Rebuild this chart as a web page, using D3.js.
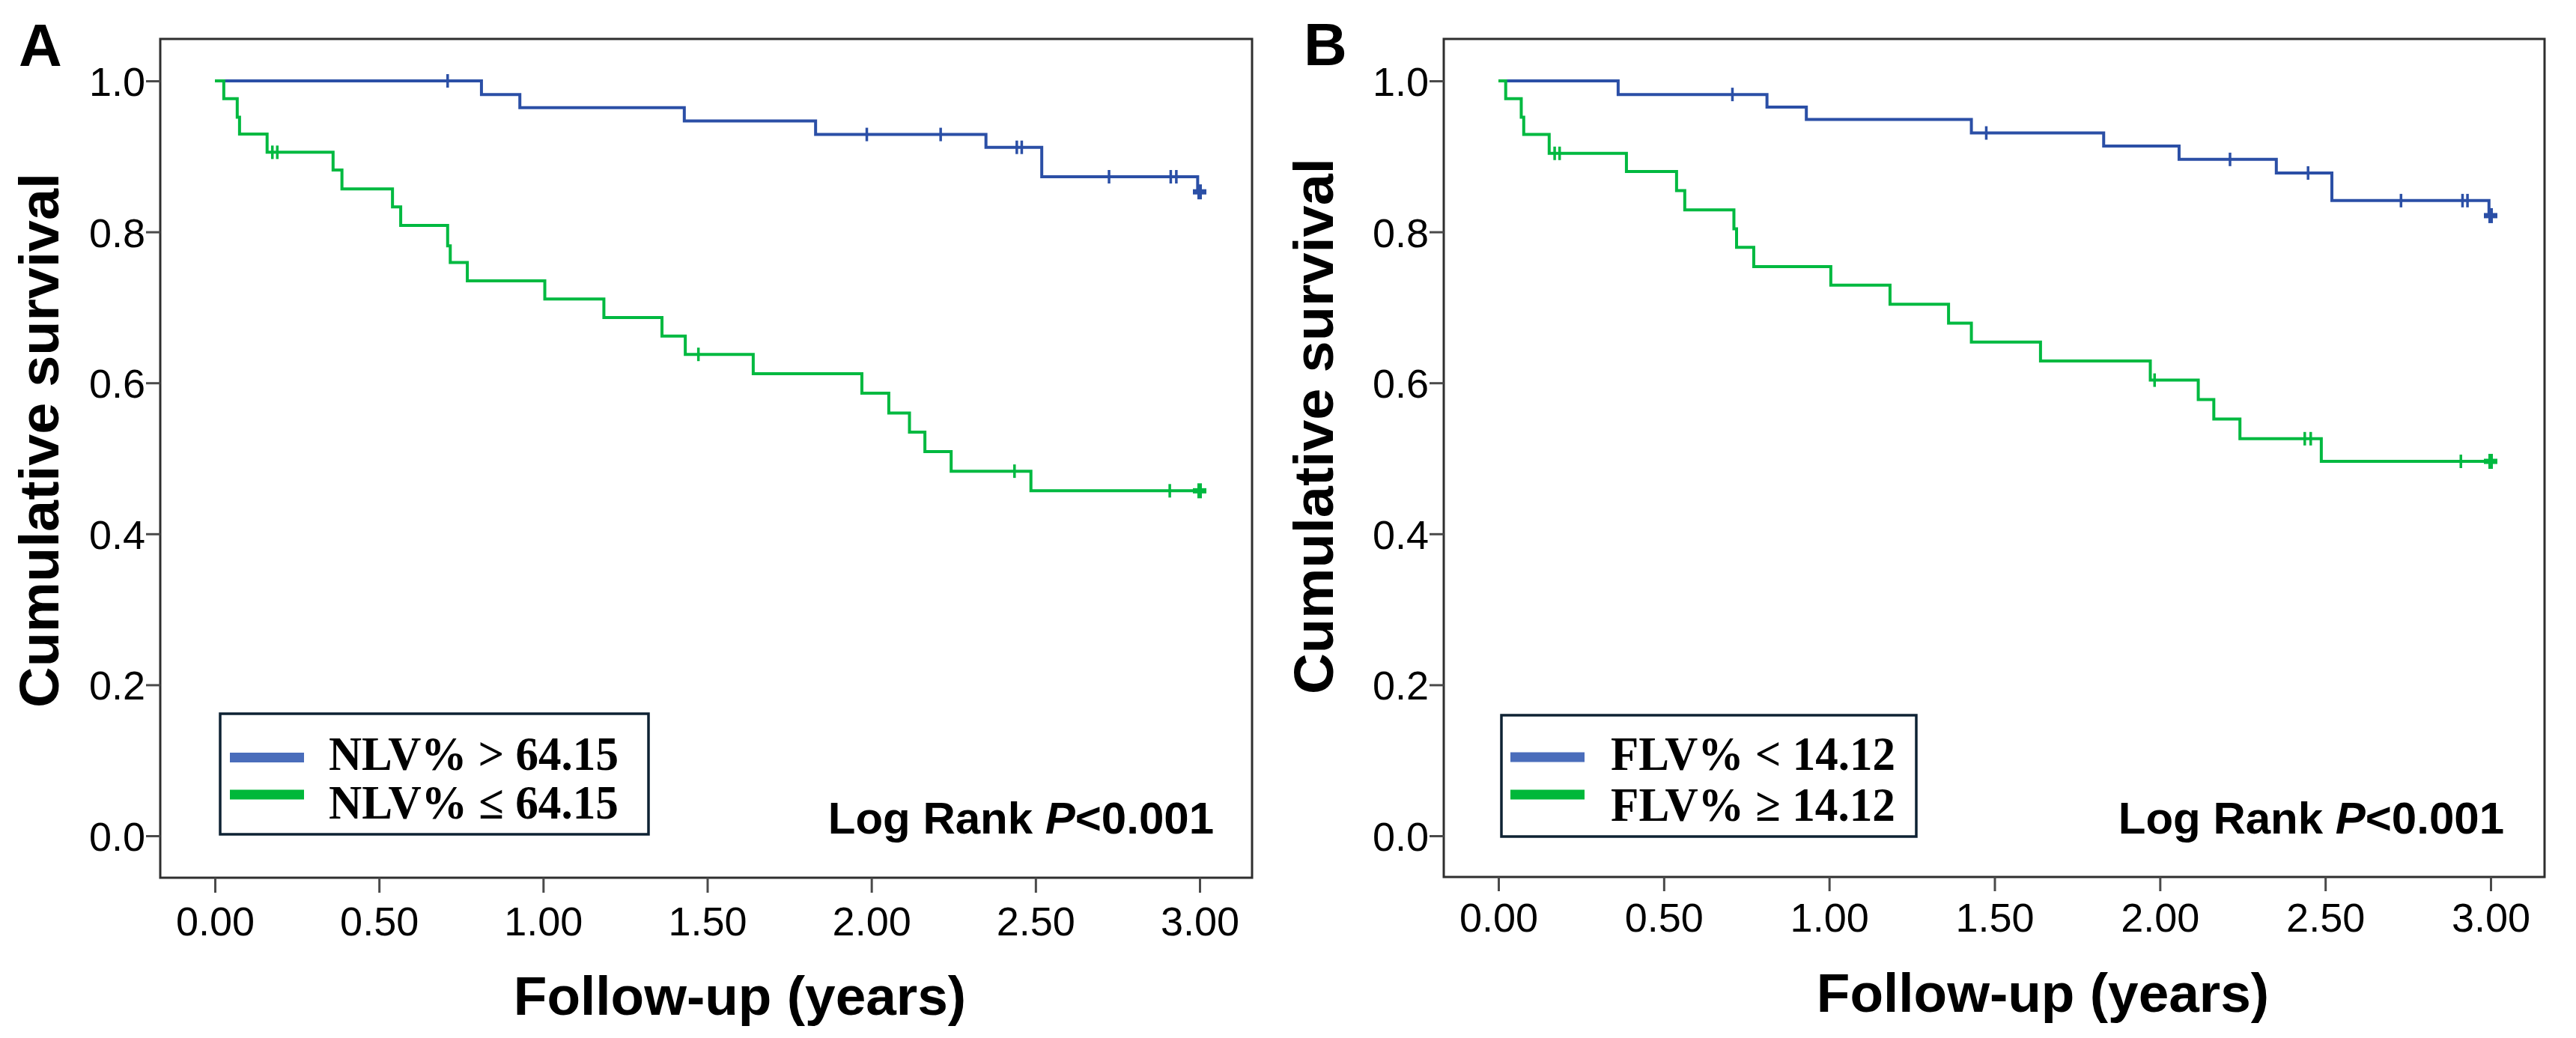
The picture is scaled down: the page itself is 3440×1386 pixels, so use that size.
<!DOCTYPE html>
<html><head><meta charset="utf-8">
<script src="https://cdn.jsdelivr.net/npm/d3@7/dist/d3.min.js"></script>
<style>body{margin:0;background:#fff}svg{display:block}</style>
</head><body>
<svg id="chart" width="3440" height="1386"></svg>
<script>
// ---------- data ----------
const yTickValues = [0.0, 0.2, 0.4, 0.6, 0.8, 1.0];
const xTickValues = [0.00, 0.50, 1.00, 1.50, 2.00, 2.50, 3.00];
const panelLetters = ["A", "B"];
const yAxisTitle = "Cumulative survival";
const xAxisTitle = "Follow-up (years)";
const logRankPrefix = "Log Rank ";
const logRankP = "P";
const logRankValue = "<0.001";
const legendA = ["NLV% > 64.15", "NLV% \u2264 64.15"];
const legendB = ["FLV% < 14.12", "FLV% \u2265 14.12"];

// Panel A, NLV% > 64.15 (blue)
const aBlueTimes = [0, 0.812, 0.929, 1.430, 1.830, 2.349, 2.519, 2.994];
const aBlueSurv  = [1.0, 0.982, 0.9645, 0.947, 0.929, 0.912, 0.873, 0.853];
const aBlueCensor = [0.709, 1.986, 2.211, 2.443, 2.458, 2.724, 2.912, 2.929, 3.0];
// Panel A, NLV% <= 64.15 (green)
const aGreenTimes = [0, 0.027, 0.068, 0.075, 0.159, 0.360, 0.387, 0.541, 0.566, 0.709, 0.717, 0.769, 1.005, 1.185, 1.362, 1.433, 1.640, 1.971, 2.053, 2.116, 2.163, 2.243, 2.486];
const aGreenSurv  = [1.0, 0.9765, 0.952, 0.9296, 0.9054, 0.882, 0.857, 0.833, 0.8085, 0.7816, 0.7595, 0.735, 0.711, 0.6864, 0.662, 0.6377, 0.612, 0.5863, 0.560, 0.5347, 0.509, 0.483, 0.457];
const aGreenCensor = [0.175, 0.190, 1.473, 2.436, 2.909, 3.0];

// Panel B, FLV% < 14.12 (blue)
const bBlueTimes = [0, 0.362, 0.812, 0.931, 1.430, 1.830, 2.058, 2.352, 2.520, 2.995];
const bBlueSurv  = [1.0, 0.982, 0.9654, 0.949, 0.931, 0.9136, 0.896, 0.878, 0.8414, 0.8215];
const bBlueCensor = [0.7075, 1.475, 2.212, 2.448, 2.729, 2.915, 2.930, 3.0];
// Panel B, FLV% >= 14.12 (green)
const bGreenTimes = [0, 0.022, 0.069, 0.0765, 0.1535, 0.387, 0.5386, 0.5634, 0.712, 0.720, 0.772, 1.005, 1.184, 1.361, 1.430, 1.639, 1.971, 2.116, 2.163, 2.242, 2.488];
const bGreenSurv  = [1.0, 0.9765, 0.952, 0.929, 0.904, 0.880, 0.8547, 0.829, 0.804, 0.7794, 0.754, 0.7294, 0.704, 0.679, 0.654, 0.629, 0.6036, 0.578, 0.552, 0.526, 0.496];
const bGreenCensor = [0.170, 0.185, 1.984, 2.438, 2.456, 2.910, 3.0];

// ---------- styles / layout ----------
const BLUE = "#2b4fa6", GREEN = "#00b940";
const LEG_BLUE = "#4a6dbb", LEG_GREEN = "#00b83a";
const SANS = "'Liberation Sans', Arial, sans-serif";
const SERIF = "'Liberation Serif', 'Times New Roman', serif";

const panels = [
  { letter: panelLetters[0], letterX: 25, letterY: 88,
    frame: [214, 52, 1672, 1172], xRange: [287, 1602], yRange: [1116, 108],
    yLabelX: 194, yTitleX: 78, yTitleY: 588, yTitleLen: 714, xTitleX: 988, xTitleY: 1355,
    xLabelY: 1249, xTickLen: 20,
    legendBox: [294, 953, 866, 1114], legLineX: [307, 406], legLineY: [1011.5, 1061],
    legTextX: 439, legTextY: [1028, 1093], legTextLen: [387, 387], legend: legendA,
    logX: 1621, logY: 1113,
    series: [
      { times: aBlueTimes, surv: aBlueSurv, censor: aBlueCensor, color: BLUE },
      { times: aGreenTimes, surv: aGreenSurv, censor: aGreenCensor, color: GREEN }
    ] },
  { letter: panelLetters[1], letterX: 1741, letterY: 87,
    frame: [1928, 52, 3398, 1171], xRange: [2001, 3326], yRange: [1116, 108],
    yLabelX: 1908, yTitleX: 1780, yTitleY: 569, yTitleLen: 716, xTitleX: 2728, xTitleY: 1351,
    xLabelY: 1244, xTickLen: 19,
    legendBox: [2005, 955, 2559, 1117], legLineX: [2017, 2116], legLineY: [1011, 1061],
    legTextX: 2151, legTextY: [1028, 1096], legTextLen: [380, 380], legend: legendB,
    logX: 3344, logY: 1113,
    series: [
      { times: bBlueTimes, surv: bBlueSurv, censor: bBlueCensor, color: BLUE },
      { times: bGreenTimes, surv: bGreenSurv, censor: bGreenCensor, color: GREEN }
    ] }
];

// horizontal scale factor so a text's advance equals targetLen
function fitWidth(textSel, targetLen) {
  const w = textSel.node().getComputedTextLength();
  return w > 0 ? targetLen / w : 1;
}

const svg = d3.select("#chart");
svg.append("rect").attr("width", 3440).attr("height", 1386).attr("fill", "#fff");

panels.forEach(p => {
  const g = svg.append("g");
  const [fx0, fy0, fx1, fy1] = p.frame;
  const x = d3.scaleLinear().domain([0, 3]).range(p.xRange);
  const y = d3.scaleLinear().domain([0, 1]).range(p.yRange);

  // frame
  g.append("rect").attr("x", fx0).attr("y", fy0).attr("width", fx1 - fx0).attr("height", fy1 - fy0)
    .attr("fill", "none").attr("stroke", "#2e2e2e").attr("stroke-width", 3);

  // y axis
  const yAxis = d3.axisLeft(y).tickValues(yTickValues).tickFormat(d3.format(".1f"))
    .tickSize(19).tickPadding(2);
  const ya = g.append("g").attr("transform", `translate(${fx0},0)`).call(yAxis);
  ya.select(".domain").remove();
  ya.selectAll(".tick line").attr("stroke", "#4a4a4a").attr("stroke-width", 3);
  ya.selectAll(".tick text").attr("font-family", SANS).attr("font-size", 54).attr("fill", "#000")
    .attr("x", p.yLabelX - fx0).attr("dy", "0.36em");

  // x axis
  const xAxis = d3.axisBottom(x).tickValues(xTickValues).tickFormat(d3.format(".2f"))
    .tickSize(p.xTickLen).tickPadding(0);
  const xa = g.append("g").attr("transform", `translate(0,${fy1})`).call(xAxis);
  xa.select(".domain").remove();
  xa.selectAll(".tick line").attr("stroke", "#4a4a4a").attr("stroke-width", 3);
  xa.selectAll(".tick text").attr("font-family", SANS).attr("font-size", 54).attr("fill", "#000")
    .attr("y", p.xLabelY - fy1).attr("dy", 0);

  // titles
  g.append("text").text(p.letter).attr("x", p.letterX).attr("y", p.letterY)
    .attr("font-family", SANS).attr("font-weight", "bold").attr("font-size", 80);
  const yt = g.append("text").text(yAxisTitle)
    .attr("text-anchor", "middle").attr("font-family", SANS).attr("font-weight", "bold").attr("font-size", 74);
  const ysx = fitWidth(yt, p.yTitleLen);
  yt.attr("transform", `translate(${p.yTitleX},${p.yTitleY}) rotate(-90) scale(${ysx},1)`);
  g.append("text").text(xAxisTitle).attr("x", p.xTitleX).attr("y", p.xTitleY)
    .attr("text-anchor", "middle").attr("font-family", SANS).attr("font-weight", "bold").attr("font-size", 73);

  // curves
  const line = d3.line().x(d => x(d[0])).y(d => y(d[1])).curve(d3.curveStepAfter);
  p.series.forEach(s => {
    const endT = d3.max(s.censor);
    const pts = s.times.map((t, i) => [t, s.surv[i]]);
    pts.push([endT, s.surv[s.surv.length - 1]]);
    g.append("path").attr("d", line(pts)).attr("fill", "none")
      .attr("stroke", s.color).attr("stroke-width", 4).attr("stroke-linejoin", "miter");
    const survAt = t => s.surv[Math.max(0, d3.bisectRight(s.times, t) - 1)];
    s.censor.forEach((t, i) => {
      const cx = x(t), cy = y(survAt(t));
      const last = i === s.censor.length - 1;
      if (last) {
        g.append("line").attr("x1", cx - 9).attr("x2", cx + 9).attr("y1", cy).attr("y2", cy)
          .attr("stroke", s.color).attr("stroke-width", 7);
        g.append("line").attr("x1", cx).attr("x2", cx).attr("y1", cy - 10).attr("y2", cy + 10)
          .attr("stroke", s.color).attr("stroke-width", 6);
      } else {
        g.append("line").attr("x1", cx).attr("x2", cx).attr("y1", cy - 9).attr("y2", cy + 9)
          .attr("stroke", s.color).attr("stroke-width", 3.5);
      }
    });
  });

  // legend
  const [lx0, ly0, lx1, ly1] = p.legendBox;
  g.append("rect").attr("x", lx0).attr("y", ly0).attr("width", lx1 - lx0).attr("height", ly1 - ly0)
    .attr("fill", "#fff").attr("stroke", "#0e2233").attr("stroke-width", 3.5);
  [LEG_BLUE, LEG_GREEN].forEach((c, i) => {
    g.append("line").attr("x1", p.legLineX[0]).attr("x2", p.legLineX[1])
      .attr("y1", p.legLineY[i]).attr("y2", p.legLineY[i])
      .attr("stroke", c).attr("stroke-width", 13);
    const lt = g.append("text").text(p.legend[i])
      .attr("font-family", SERIF).attr("font-weight", "bold").attr("font-size", 63).attr("fill", "#000");
    const sx = fitWidth(lt, p.legTextLen[i]);
    lt.attr("transform", `translate(${p.legTextX},${p.legTextY[i]}) scale(${sx},1)`);
  });

  // log rank
  const lt = g.append("text").attr("x", p.logX).attr("y", p.logY).attr("text-anchor", "end")
    .attr("font-family", SANS).attr("font-weight", "bold").attr("font-size", 60).attr("fill", "#000");
  lt.append("tspan").text(logRankPrefix);
  lt.append("tspan").text(logRankP).attr("font-style", "italic");
  lt.append("tspan").text(logRankValue);
});
</script>
</body></html>
